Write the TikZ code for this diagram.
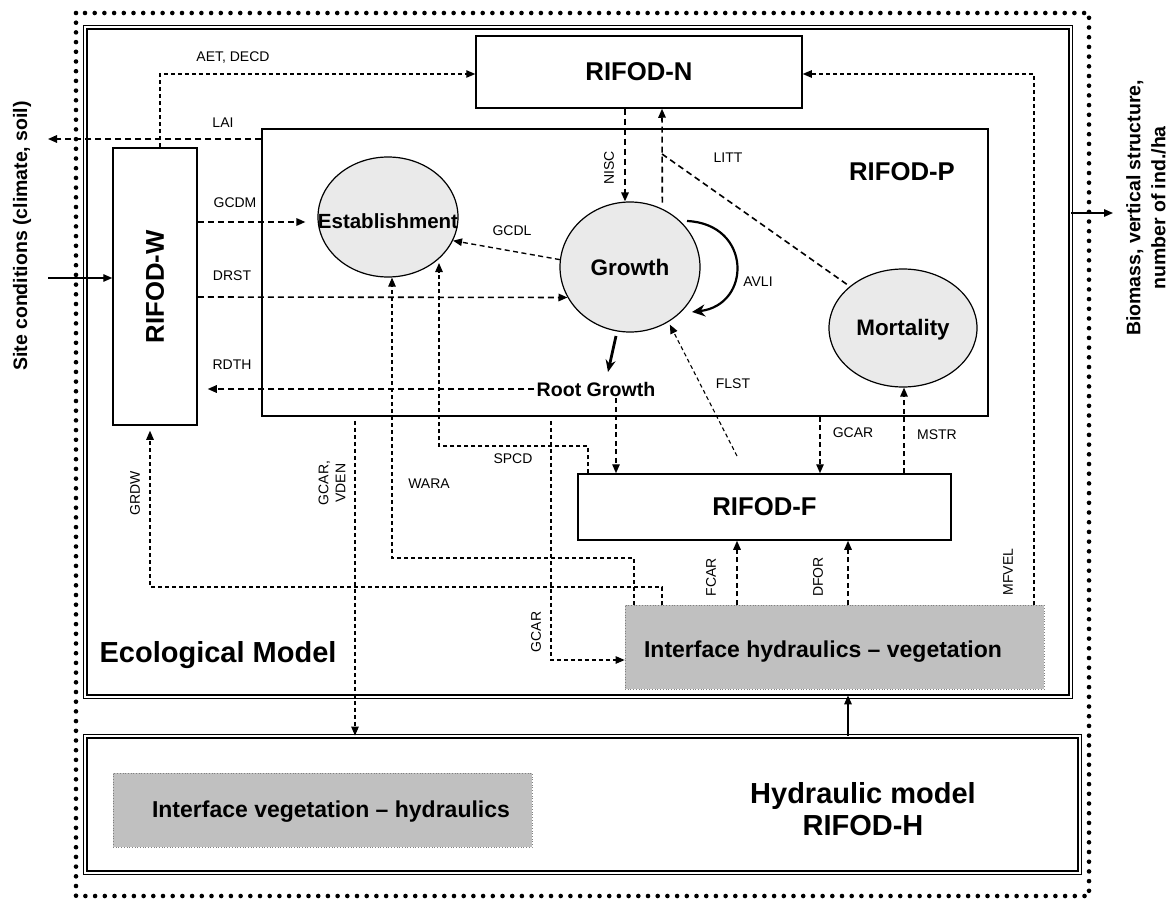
\documentclass[tikz,border=0pt]{standalone}
\usepackage{fontspec}
\setmainfont{Liberation Sans}
\usetikzlibrary{arrows.meta,shapes.geometric,calc}
\definecolor{ovalgray}{RGB}{234,234,234}
\definecolor{ifgray}{RGB}{192,192,192}
\begin{document}
\begin{tikzpicture}[x=1pt,y=-1pt,
  lbl/.style={font=\fontsize{14}{17}\selectfont, inner sep=0pt},
  dk/.style={line width=1.6pt, dash pattern=on 6pt off 4pt},
  dm/.style={line width=1.35pt, dash pattern=on 5pt off 3.5pt},
  dn/.style={line width=1.1pt, dash pattern=on 4pt off 3pt},
  arr/.style={-{Triangle[length=9pt,width=7.5pt]}},
  boxed/.style={draw, line width=1.5pt, inner sep=0pt},
  oval/.style={ellipse, draw, line width=1.2pt, fill=ovalgray, inner sep=0pt},
  bigtxt/.style={font=\fontsize{25.7}{30}\selectfont\bfseries},
  dbl/.style={draw, double, double distance=2pt, line width=1.6pt, inner sep=0pt},
  iface/.style={draw=gray, dotted, line width=0.7pt, fill=ifgray, inner sep=0pt},
  solidarr/.style={line width=1.4pt, -{Triangle[length=9pt,width=7.5pt]}}
]
\useasboundingbox (0,0) rectangle (1169,901);
% outer dotted frame
\draw[line width=4.6pt, line cap=round, dash pattern=on 0pt off 9.7pt] (76,13) rectangle (1089,896);
% model frames
\node[dbl, minimum width=985.2, minimum height=669.2] (eco) at (578,362) {};
\node[dbl, minimum width=994.2, minimum height=136.2] (hyd) at (582.5,804.5) {};
\node[font=\fontsize{29}{34}\selectfont\bfseries] at (218,655) {Ecological Model};
\node[align=center, font=\fontsize{29}{32}\selectfont\bfseries] at (863,809) {Hydraulic model\\RIFOD-H};

% boxes
\node[boxed, bigtxt, minimum width=326, minimum height=72] (N) at (639,72) {RIFOD-N};
\node[boxed, minimum width=726, minimum height=287] (P) at (625,272.5) {};
\node[bigtxt] at (902,172) {RIFOD-P};
\node[boxed, minimum width=84, minimum height=277] (W) at (155,286.5) {};
\node[bigtxt, rotate=90] at (155,287) {RIFOD-W};
\node[boxed, bigtxt, minimum width=373, minimum height=66] (F) at (764.5,507) {RIFOD-F};
\node[iface, minimum width=419, minimum height=84] (IHV) at (834.5,647) {};
\node[font=\fontsize{23}{27}\selectfont\bfseries] at (823,652) {Interface hydraulics -- vegetation};
\node[iface, minimum width=419, minimum height=74] (IVH) at (322.5,810) {};
\node[font=\fontsize{23}{27}\selectfont\bfseries] at (331,812) {Interface vegetation -- hydraulics};

% ellipses
\node[oval, minimum width=140, minimum height=120] (Est) at (388,217) {};
\node[font=\fontsize{20.5}{24}\selectfont\bfseries] at (388,221) {Establishment};
\node[oval, minimum width=140, minimum height=130] (Growth) at (630,267) {};
\node[font=\fontsize{22.5}{27}\selectfont\bfseries] at (630,267) {Growth};
\node[oval, minimum width=148, minimum height=118] (Mort) at (903,328) {};
\node[font=\fontsize{22.4}{27}\selectfont\bfseries] at (903,330) {Mortality};
\node[font=\fontsize{19.6}{24}\selectfont\bfseries, inner sep=2pt] (RG) at (596,389) {Root Growth};

% side texts
\node[rotate=90, font=\fontsize{19.5}{23}\selectfont\bfseries] at (22,236) {Site conditions (climate, soil)};
\node[rotate=90, align=center, font=\fontsize{19.5}{25}\selectfont\bfseries] at (1146,208) {Biomass, vertical structure,\\number of ind./ha};

% free coordinates
\coordinate (sitein) at (48,278);
\coordinate (lai) at (48,139);
\coordinate (bio) at (1113,213);
\coordinate (littj) at (662,154);
\coordinate (av1) at (687,221);
\coordinate (av2) at (692,312);
\coordinate (rg1) at (616,336);
\coordinate (rg2) at (608,372);
\coordinate (flst) at (737,456);
\coordinate (spe) at (439,263);

% connectors
\draw[dn, arr] (W.north -| 160,0) -- (160,74) -- (N.west |- 0,74);
\draw[dk, arr] (P.west |- 0,139) -- (lai);
\draw[dk, arr, shorten >=12pt] (W.east |- 0,222) -- (Est.west |- 0,222);
\draw[dk, arr] (W.east |- 0,297) -- (Growth.206);
\draw[dk, arr, shorten >=10pt] (RG.west) -- (W.east |- RG.west);
\draw[dm, arr] (Growth.174) -- (Est.340);
\draw[dk, arr] (N.south -| 625,0) -- (Growth.north -| 625,0);
\draw[dk, arr, shorten <=6pt] (Growth.61) -- (N.south -| 662,0);
\draw[dk] (littj) -- (Mort.142);
\draw[line width=2.2pt, -{Stealth[length=13pt,width=12pt]}] (av1) .. controls (752,224) and (752,305) .. (av2);
\draw[line width=2.8pt, -{Stealth[length=12pt,width=10pt]}] (rg1) -- (rg2);
\draw[dn, arr, shorten >=3pt] (flst) -- (Growth.305);
\draw[dm, arr] (RG.south -| 616,0) -- (F.north -| 616,0);
\draw[dn, arr] (F.north -| 588,0) |- (439,446) -- (spe);
\draw[dn, arr] (IHV.north -| 634,0) |- (392,558) -- (Est.south -| 392,0);
\draw[dn, arr, shorten >=5pt] (IHV.north -| 662,0) |- (150,587) -- (W.south -| 150,0);
\draw[dn, arr, shorten <=4pt] (P.south -| 355,0) -- (hyd.north -| 355,0);
\draw[dn, arr, shorten <=4pt] (P.south -| 551,0) |- (IHV.west |- 0,660);
\draw[dm, arr] (P.south -| 820,0) -- (F.north -| 820,0);
\draw[dm, arr] (F.north -| 904,0) -- (Mort.south -| 904,0);
\draw[dm, arr] (IHV.north -| 737,0) -- (F.south -| 737,0);
\draw[dm, arr] (IHV.north -| 848,0) -- (F.south -| 848,0);
\draw[dn, arr] (IHV.north -| 1034,0) |- (N.east |- 0,74);
\draw[solidarr, shorten >=-2pt] (hyd.north -| 848,0) -- (eco.south -| 848,0);
\draw[solidarr] (sitein) -- (W.west |- sitein);
\draw[solidarr] (eco.east |- bio) -- (bio);

% labels
\node[lbl] at (233,58) {AET, DECD};
\node[lbl] at (223,123) {LAI};
\node[lbl] at (235,203) {GCDM};
\node[lbl] at (232,276) {DRST};
\node[lbl] at (232,365) {RDTH};
\node[lbl] at (512,231) {GCDL};
\node[lbl, rotate=90] at (609,168) {NISC};
\node[lbl] at (728,158) {LITT};
\node[lbl] at (758,282) {AVLI};
\node[lbl] at (733,384) {FLST};
\node[lbl] at (853,433) {GCAR};
\node[lbl] at (937,435) {MSTR};
\node[lbl] at (513,459) {SPCD};
\node[lbl] at (429,484) {WARA};
\node[lbl, rotate=90] at (135,493) {GRDW};
\node[lbl, rotate=90, align=center] at (332,483) {GCAR,\\VDEN};
\node[lbl, rotate=90] at (536,632) {GCAR};
\node[lbl, rotate=90] at (711,577) {FCAR};
\node[lbl, rotate=90] at (818,577) {DFOR};
\node[lbl, rotate=90] at (1008,572) {MFVEL};
\end{tikzpicture}
\end{document}
